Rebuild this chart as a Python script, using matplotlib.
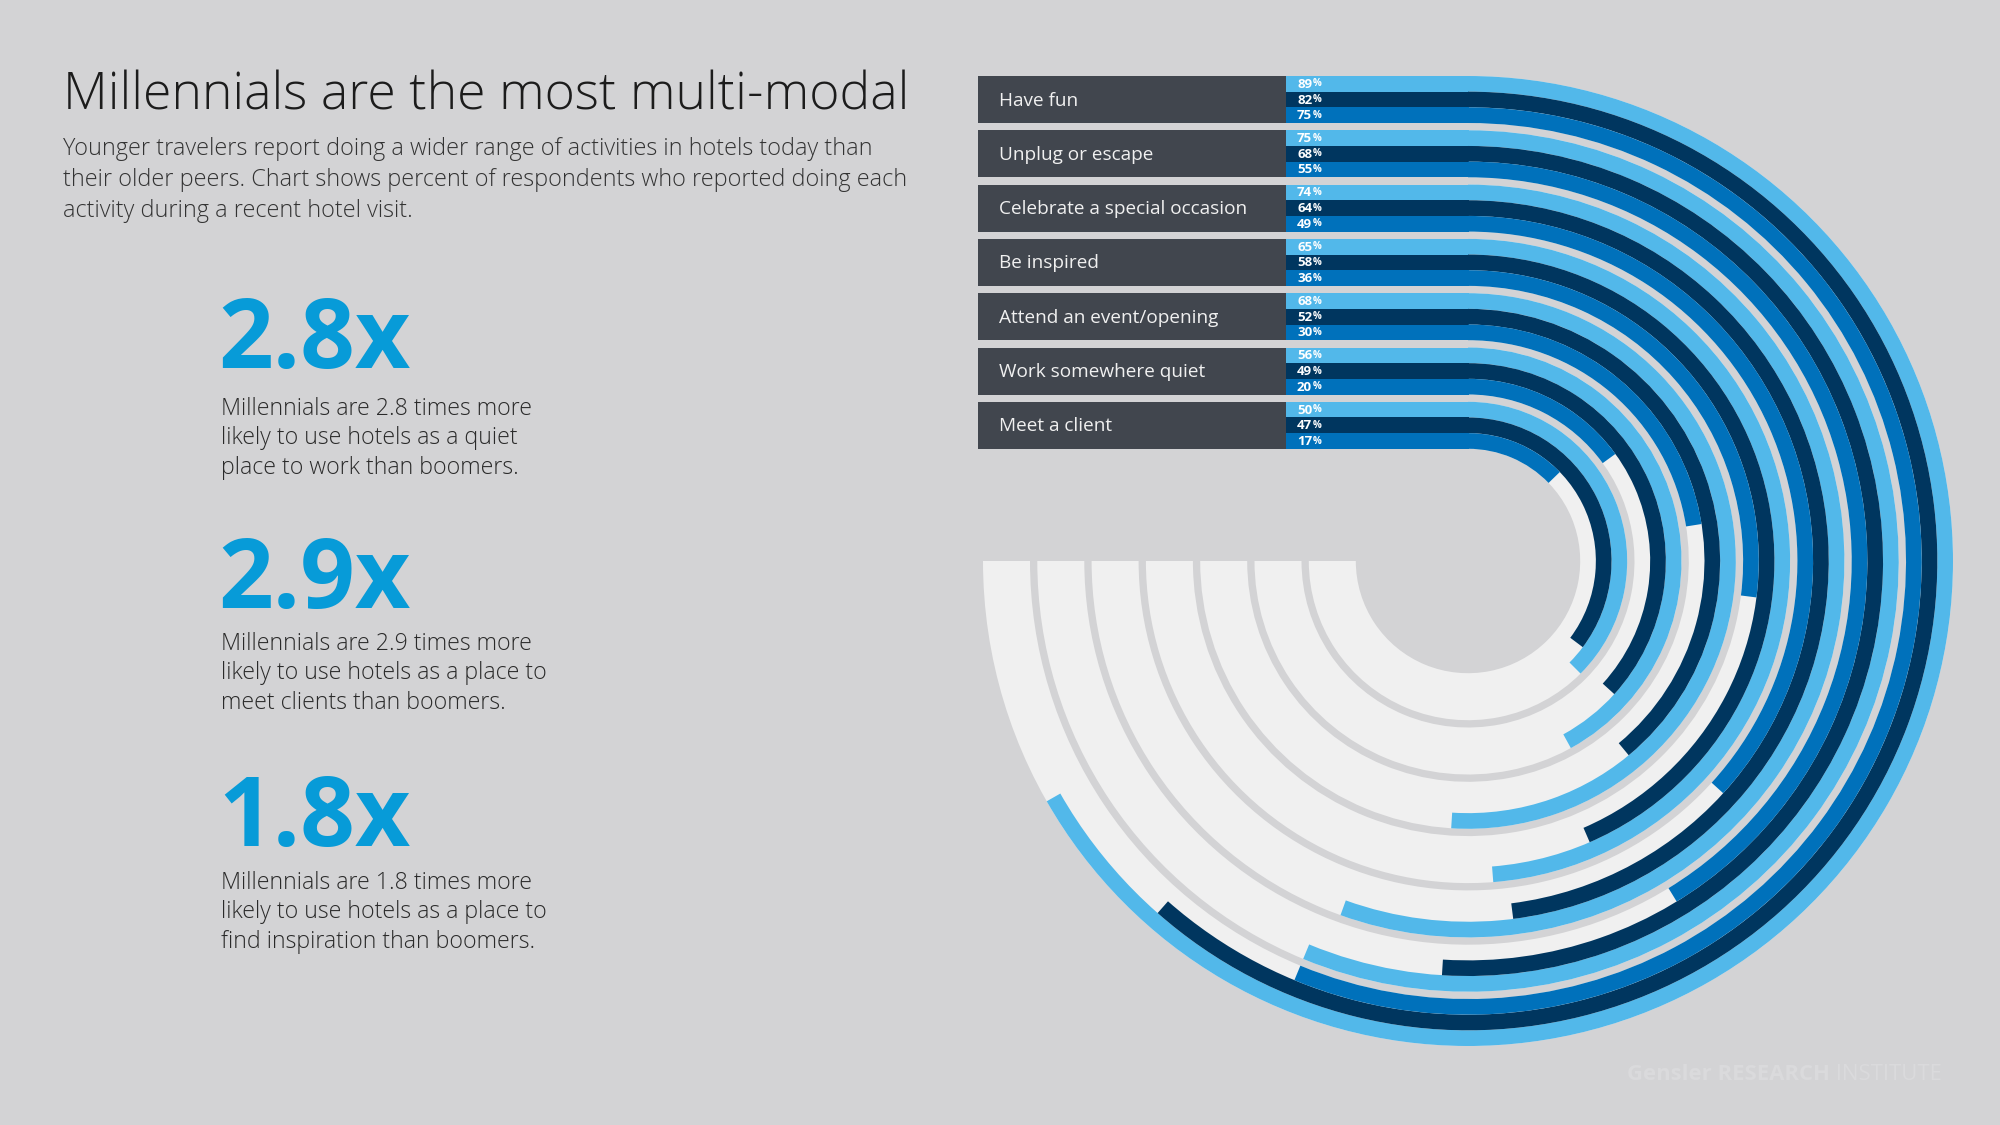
import matplotlib.pyplot as plt
from matplotlib.patches import Wedge, Rectangle

# --- Data ---
activities = [
    "Have fun",
    "Unplug or escape",
    "Celebrate a special occasion",
    "Be inspired",
    "Attend an event/opening",
    "Work somewhere quiet",
    "Meet a client",
]
millennials = [89, 75, 74, 65, 68, 56, 50]
gen_x = [82, 68, 64, 58, 52, 49, 47]
boomers = [75, 55, 49, 36, 30, 20, 17]

multipliers = ["2.8x", "2.9x", "1.8x"]
multiplier_notes = [
    ["Millennials are 2.8 times more", "likely to use hotels as a quiet", "place to work than boomers."],
    ["Millennials are 2.9 times more", "likely to use hotels as a place to", "meet clients than boomers."],
    ["Millennials are 1.8 times more", "likely to use hotels as a place to", "find inspiration than boomers."],
]
subtitle_lines = [
    "Younger travelers report doing a wider range of activities in hotels today than",
    "their older peers. Chart shows percent of respondents who reported doing each",
    "activity during a recent hotel visit.",
]

# --- Style ---
BG = "#d3d3d5"
TRACK = "#f0f0f0"
BOX = "#41464e"
SERIES_COLORS = ["#52b8ea", "#00365f", "#0071bb"]
ACCENT = "#079bd8"
FONT = "Open Sans"

# canvas in pixels, y measured upward
W, H = 2000, 1125
CX, CY = 1468, H - 561          # centre of the rings
R_OUT = 485                     # outer edge of the first group
PITCH = 54.3                    # distance between groups
GROUP_W = 47                    # thickness of a group (3 bars)
BAR_W = GROUP_W / 3
BAR_LEFT = 1286
BOX_LEFT = 978
SPAN = 270                      # degrees that stand for 100%

fig = plt.figure(figsize=(20, 11.25), dpi=100, facecolor=BG)
ax = fig.add_axes([0, 0, 1, 1])
ax.set_xlim(0, W)
ax.set_ylim(0, H)
ax.set_facecolor(BG)
ax.set_axis_off()

series = [millennials, gen_x, boomers]

for i, name in enumerate(activities):
    r_top = R_OUT - i * PITCH

    # background track of the ring
    ax.add_patch(Wedge((CX, CY), r_top, -180, 90, width=GROUP_W, facecolor=TRACK, lw=0))

    # label box
    ax.add_patch(Rectangle((BOX_LEFT, CY + r_top - GROUP_W), BAR_LEFT - BOX_LEFT, GROUP_W,
                           facecolor=BOX, lw=0))
    ax.text(999, CY + r_top - GROUP_W / 2 - 1, name, fontsize=13.7, color="#f0f0f0",
            family=FONT, va="center", ha="left")

    for j, (vals, color) in enumerate(zip(series, SERIES_COLORS)):
        v = vals[i]
        r = r_top - j * BAR_W
        # straight lead-in then the arc, clockwise from the top
        ax.add_patch(Rectangle((BAR_LEFT, CY + r - BAR_W), CX - BAR_LEFT + 0.5, BAR_W,
                               facecolor=color, lw=0))
        ax.add_patch(Wedge((CX, CY), r, 90 - SPAN * v / 100, 90, width=BAR_W,
                           facecolor=color, lw=0))
        t = ax.text(1297, CY + r - BAR_W / 2 - 0.5, str(v), fontsize=9.5, color="white",
                    weight="bold", family=FONT, va="center", ha="left")
        ax.annotate("%", xy=(1, 0), xycoords=t, xytext=(0.5, 1), textcoords="offset points",
                    fontsize=7, color="white", weight="bold", family=FONT,
                    va="bottom", ha="left")

# --- Text on the left ---
ax.text(63, H - 109, "Millennials are the most multi-modal", fontsize=37.3, color="#1c1c1c",
        family=FONT, weight=300, va="baseline", ha="left")
for k, line in enumerate(subtitle_lines):
    ax.text(63, H - 155 - k * 30.8, line, fontsize=16.8, color="#333333", family=FONT,
            weight=300, va="baseline", ha="left")

note_bases = [368, 608, 846]
note_offsets = [47, 42, 43]
for m, note, base, off in zip(multipliers, multiplier_notes, note_bases, note_offsets):
    ax.text(218, H - base, m, fontsize=69, color=ACCENT, weight="bold", family=FONT,
            va="baseline", ha="left")
    for k, line in enumerate(note):
        ax.text(221, H - base - off - k * 29.3, line, fontsize=16.7, color="#2a2a2a",
                family=FONT, weight=300, va="baseline", ha="left")

# faint watermark
wm = ax.text(1627, H - 1080, "Gensler RESEARCH", fontsize=15.9, color="#dadadc",
             weight="bold", family=FONT, va="baseline", ha="left")
ax.annotate(" INSTITUTE", xy=(1, 0), xycoords=wm, va="bottom", ha="left",
            fontsize=15.9, color="#dadadc", family=FONT)

fig.savefig("out.png", dpi=100, facecolor=BG)
